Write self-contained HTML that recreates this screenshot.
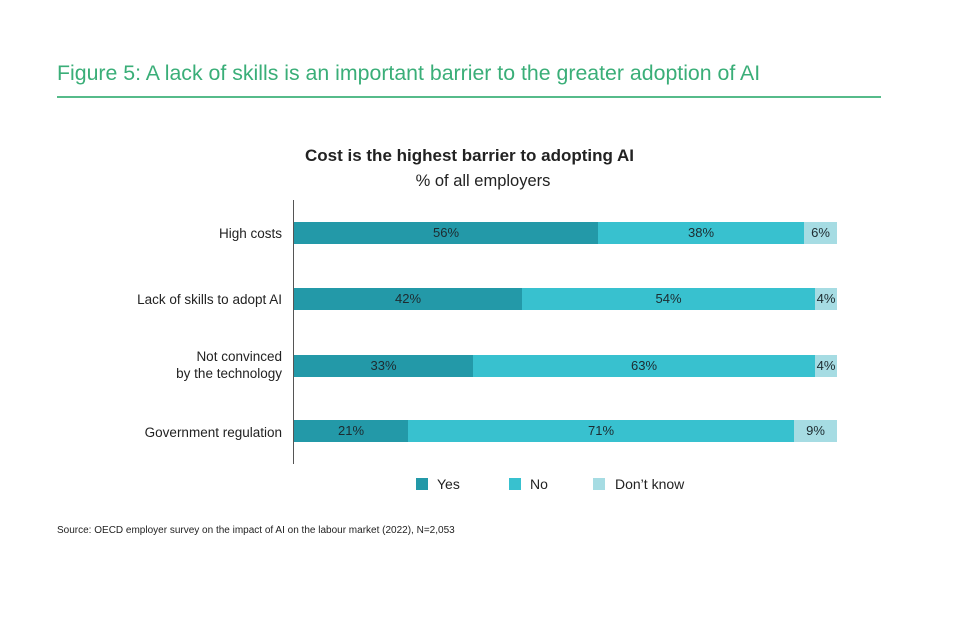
<!DOCTYPE html>
<html><head><style>
body{margin:0;width:960px;height:625px;background:#fff;font-family:"Liberation Sans",sans-serif;position:relative;overflow:hidden}
.a{position:absolute}
.bar{position:absolute;height:22px;display:flex;left:294px;width:543px}
.bar div{height:100%;text-align:center;font-size:13px;line-height:22px;color:#1d2b30}
.y{background:#2399a8}.n{background:#38c1cf}.d{background:#a6dce3}
.lab{position:absolute;right:678px;font-size:13.5px;color:#222;text-align:right;line-height:17px}
</style></head><body>
<div class="a" style="left:57px;top:61px;font-size:21.3px;color:#3aae78">Figure 5: A lack of skills is an important barrier to the greater adoption of AI</div>
<div class="a" style="left:57px;top:96px;width:824px;height:2px;background:#56bb8a"></div>
<div class="a" style="left:305px;top:146px;font-size:17px;font-weight:bold;color:#222">Cost is the highest barrier to adopting AI</div>
<div class="a" style="left:0;width:960px;top:172px;text-align:center;font-size:16.5px;color:#222;padding-left:6px;box-sizing:border-box">% of all employers</div>
<div class="a" style="left:293px;top:200px;width:1px;height:264px;background:#555"></div>
<div class="lab" style="top:225px">High costs</div>
<div class="lab" style="top:291px">Lack of skills to adopt AI</div>
<div class="lab" style="top:348px">Not convinced<br>by the technology</div>
<div class="lab" style="top:424px">Government regulation</div>
<div class="bar" style="top:222px"><div class="y" style="width:304px">56%</div><div class="n" style="width:206px">38%</div><div class="d" style="width:33px">6%</div></div>
<div class="bar" style="top:288px"><div class="y" style="width:228px">42%</div><div class="n" style="width:293px">54%</div><div class="d" style="width:22px">4%</div></div>
<div class="bar" style="top:355px"><div class="y" style="width:179px">33%</div><div class="n" style="width:342px">63%</div><div class="d" style="width:22px">4%</div></div>
<div class="bar" style="top:420px"><div class="y" style="width:114px">21%</div><div class="n" style="width:386px">71%</div><div class="d" style="width:43px">9%</div></div>
<div class="a" style="left:416px;top:478px;width:12px;height:12px;background:#2399a8"></div>
<div class="a" style="left:437px;top:476px;font-size:14px;color:#222">Yes</div>
<div class="a" style="left:509px;top:478px;width:12px;height:12px;background:#38c1cf"></div>
<div class="a" style="left:530px;top:476px;font-size:14px;color:#222">No</div>
<div class="a" style="left:593px;top:478px;width:12px;height:12px;background:#a6dce3"></div>
<div class="a" style="left:615px;top:476px;font-size:14px;color:#222">Don’t know</div>
<div class="a" style="left:57px;top:525px;font-size:10px;color:#222">Source: OECD employer survey on the impact of AI on the labour market (2022), N=2,053</div>
</body></html>
